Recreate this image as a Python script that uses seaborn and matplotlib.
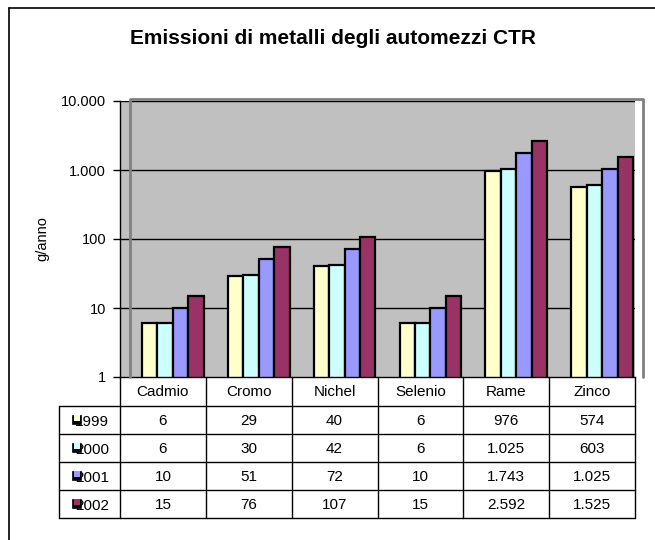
import matplotlib
matplotlib.use("Agg")
import matplotlib.pyplot as plt
from matplotlib.patches import Rectangle
from matplotlib.lines import Line2D
import seaborn as sns
import pandas as pd

categories = ["Cadmio", "Cromo", "Nichel", "Selenio", "Rame", "Zinco"]
years = ["1999", "2000", "2001", "2002"]
v1999 = [6, 29, 40, 6, 976, 574]
v2000 = [6, 30, 42, 6, 1025, 603]
v2001 = [10, 51, 72, 10, 1743, 1025]
v2002 = [15, 76, 107, 15, 2592, 1525]
yticks = [1, 10, 100, 1000, 10000]
colors = ["#FFFFCC", "#CCFFFF", "#9999FF", "#993366"]

series = [v1999, v2000, v2001, v2002]
rows = []
for y, vals in zip(years, series):
    for c, v in zip(categories, vals):
        rows.append({"Metallo": c, "Anno": y, "Valore": v})
df = pd.DataFrame(rows)

def fmt(v):
    return f"{int(round(v)):,}".replace(",", ".")

sns.set_style("white")
plt.rcParams["font.family"] = ["Liberation Sans", "DejaVu Sans"]
plt.rcParams["text.color"] = "black"
plt.rcParams["axes.labelcolor"] = "black"
plt.rcParams["xtick.color"] = "black"
plt.rcParams["ytick.color"] = "black"

W, H = 655, 540
fig = plt.figure(figsize=(W / 100, H / 100), dpi=100)

def fx(x):
    return x / W

def fy(y):
    return 1 - y / H

AX_L, AX_R, AX_T, AX_B = 120, 635, 101, 377
ax = fig.add_axes([fx(AX_L), fy(AX_B), fx(AX_R) - fx(AX_L), fy(AX_T) - fy(AX_B)])
ax.set_facecolor("#C0C0C0")
ax.set_yscale("log")
sns.barplot(data=df, x="Metallo", y="Valore", hue="Anno", order=categories,
            hue_order=years, palette=dict(zip(years, colors)), width=0.72,
            gap=0, edgecolor="black", linewidth=1.6, saturation=1,
            legend=False, ax=ax, errorbar=None)
ax.set_ylim(1, 10000)
n = len(categories)
colw = (AX_R - AX_L) / n
shift = 10 / colw  # Excel's offset of the bars inside the plot frame
ax.set_xlim(-0.5 - shift, n - 0.5 - shift)
ax.set_yticks(yticks)
ax.set_yticklabels([fmt(t) for t in yticks], fontsize=10.5)
ax.yaxis.set_minor_locator(matplotlib.ticker.NullLocator())
ax.tick_params(axis="y", which="major", length=5, width=1, color="black", pad=5, left=True)
ax.set_xticks([])
ax.set_xlabel("")
ax.set_ylabel("g/anno", fontsize=10.5, labelpad=8)
ax.set_axisbelow(True)
for t in yticks[1:]:
    ax.axhline(t, color="black", lw=1, zorder=0.5)
for s in ["top", "right"]:
    ax.spines[s].set_visible(False)
for s in ["left", "bottom"]:
    ax.spines[s].set_color("black")
    ax.spines[s].set_linewidth(1)

# plot-area frame (Excel style): left, top, right
fx0, fx1, fyt, fyb = fx(130), fx(643), fy(99), fy(377)
fig.add_artist(Line2D([fx0, fx0, fx1, fx1], [fyb, fyt, fyt, fyb], transform=fig.transFigure,
                      color="#808080", lw=2, zorder=3))

# outer chart border
fig.add_artist(Line2D([fx(9), fx(9)], [fy(8), 0], transform=fig.transFigure, color="black", lw=1.2))
fig.add_artist(Line2D([fx(9), 1], [fy(8), fy(8)], transform=fig.transFigure, color="black", lw=1.2))

# title
fig.text(fx(333), fy(38), "Emissioni di metalli degli automezzi CTR", fontsize=15,
         fontweight="bold", ha="center", va="center")

# data table
row_edges = [377, 406, 434, 462, 490, 518]
col_edges = [AX_L + i * colw for i in range(n + 1)]
for xb in col_edges:
    fig.add_artist(Line2D([fx(xb), fx(xb)], [fy(377), fy(518)], transform=fig.transFigure,
                          color="black", lw=1))
for ry in row_edges[1:]:
    fig.add_artist(Line2D([fx(59), fx(AX_R)], [fy(ry), fy(ry)], transform=fig.transFigure,
                          color="black", lw=1))
fig.add_artist(Line2D([fx(59), fx(59)], [fy(406), fy(518)], transform=fig.transFigure,
                      color="black", lw=1))
for i, c in enumerate(categories):
    xc = (col_edges[i] + col_edges[i + 1]) / 2
    fig.text(fx(xc), fy(392), c, ha="center", va="center", fontsize=11)
for r, (yr, vals, col) in enumerate(zip(years, series, colors)):
    yc = (row_edges[r + 1] + row_edges[r + 2]) / 2
    for i, v in enumerate(vals):
        xc = (col_edges[i] + col_edges[i + 1]) / 2
        fig.text(fx(xc), fy(yc + 1), fmt(v), ha="center", va="center", fontsize=11)
    fig.text(fx(75), fy(yc + 1.5), yr, ha="left", va="center", fontsize=11)
    s = 9.5
    fig.add_artist(Rectangle((fx(71.5), fy(yc + 4)), fx(s), fx(s) * W / H,
                             transform=fig.transFigure, facecolor="black",
                             edgecolor="black", lw=0.5, zorder=5))
    fig.add_artist(Rectangle((fx(74), fy(yc + 1)), fx(6), fx(6) * W / H,
                             transform=fig.transFigure, facecolor=col,
                             edgecolor="none", zorder=6))

fig.savefig("out.png", dpi=100)
